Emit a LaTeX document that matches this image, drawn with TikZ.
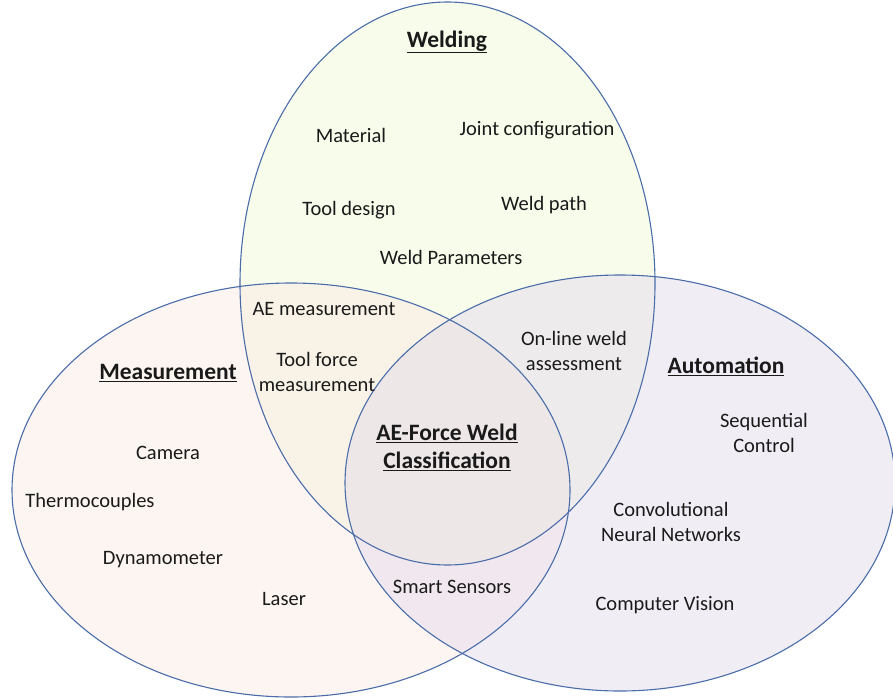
\documentclass[tikz,border=0pt]{standalone}
\usepackage{fontspec}
\setmainfont{Carlito}
\definecolor{edge}{HTML}{4A6DAA}
\definecolor{weldc}{HTML}{F1F9D7}
\definecolor{measc}{HTML}{FBEBE3}
\definecolor{autoc}{HTML}{E3DCEB}
\definecolor{txt}{HTML}{1A1A1A}
\begin{document}
\begin{tikzpicture}[x=1pt,y=-1pt,
  item/.style={align=center,text=txt,font=\fontsize{20.5}{25}\selectfont,inner sep=0pt},
  head/.style={align=center,text=txt,font=\fontsize{23.5}{28}\selectfont\bfseries,inner sep=0pt}]
\useasboundingbox (0,0) rectangle (893,698);
% sets
\fill[weldc,fill opacity=0.5] (447.5,283.5) ellipse [x radius=207.5pt, y radius=281.5pt];
\fill[measc,fill opacity=0.5] (291,490) ellipse [x radius=279pt, y radius=207pt];
\fill[autoc,fill opacity=0.5] (620,483) ellipse [x radius=275pt, y radius=208pt];
\draw[edge,line width=1.1pt] (447.5,283.5) ellipse [x radius=207.5pt, y radius=281.5pt];
\draw[edge,line width=1.1pt] (291,490) ellipse [x radius=279pt, y radius=207pt];
\draw[edge,line width=1.1pt] (620,483) ellipse [x radius=275pt, y radius=208pt];
% headings
\node[head] (welding) at (447,42) {\underline{Welding}};
\node[head] (measurement) at (168,373) {\underline{Measurement}};
\node[head] (automation) at (726,366) {\underline{Automation}};
\node[head] (center) at (447,447) {\underline{AE-Force Weld}\\\underline{Classification}};
% items
\node[item] (material) at (351,135) {Material};
\node[item] (joint) at (537,130) {Joint configuration};
\node[item] (tooldesign) at (349,210) {Tool design};
\node[item] (weldpath) at (544,205) {Weld path};
\node[item] (weldparam) at (451,257) {Weld Parameters};
\node[item] (aemeas) at (324,309) {AE measurement};
\node[item] (toolforce) at (317,372) {Tool force\\measurement};
\node[item] (online) at (574,351) {On-line weld\\assessment};
\node[item] (seq) at (764,433) {Sequential\\Control};
\node[item] (camera) at (168,453) {Camera};
\node[item] (thermo) at (90,502) {Thermocouples};
\node[item] (cnn) at (671,522) {Convolutional\\Neural Networks};
\node[item] (dyn) at (163,560) {Dynamometer};
\node[item] (laser) at (284,599) {Laser};
\node[item] (smart) at (452,587) {Smart Sensors};
\node[item] (cv) at (665,605) {Computer Vision};
\end{tikzpicture}
\end{document}
